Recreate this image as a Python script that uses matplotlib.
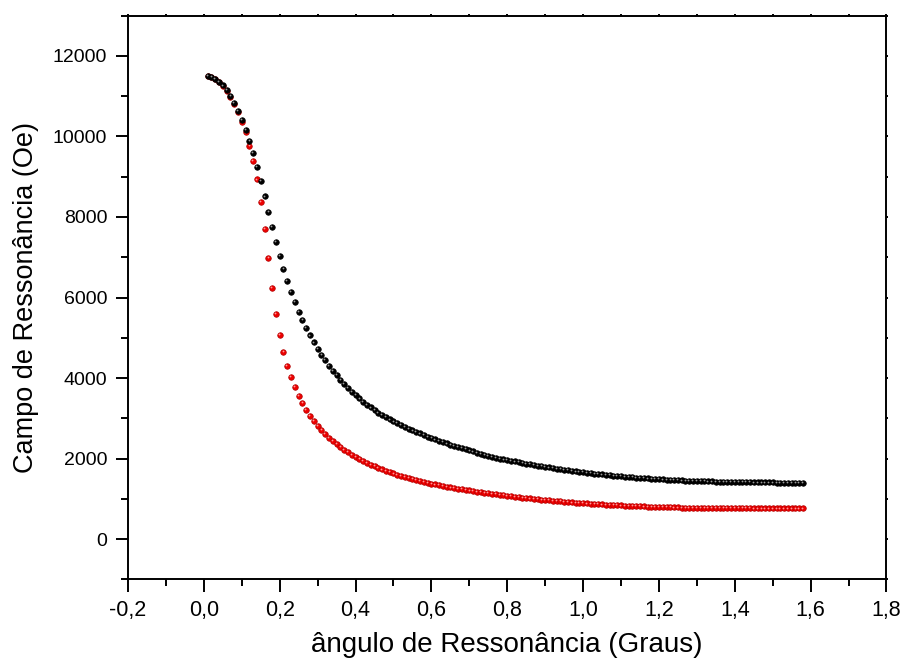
import numpy as np
import matplotlib
matplotlib.use("Agg")
import matplotlib.pyplot as plt
from matplotlib.ticker import MultipleLocator, FuncFormatter
from matplotlib.transforms import ScaledTranslation

# Resonance field (Oe) sampled every 0.01 of the angle, starting at 0.01
angle_start = 0.01
angle_step = 0.01

field_exact = [
    11514, 11484, 11434, 11362, 11268, 11150, 11006, 10834, 10634, 10406,
    10171, 9899, 9589, 9251, 8889, 8511, 8126, 7746, 7380, 7030,
    6707, 6410, 6135, 5881, 5649, 5436, 5239, 5057, 4887, 4729,
    4581, 4441, 4309, 4185, 4068, 3958, 3854, 3756, 3663, 3575,
    3492, 3414, 3340, 3270, 3204, 3142, 3083, 3027, 2974, 2924,
    2876, 2830, 2786, 2743, 2701, 2661, 2622, 2584, 2547, 2511,
    2476, 2442, 2409, 2377, 2346, 2316, 2287, 2258, 2230, 2202,
    2175, 2148, 2122, 2096, 2071, 2046, 2022, 1998, 1980, 1963,
    1945, 1928, 1910, 1892, 1875, 1857, 1840, 1822, 1808, 1794,
    1780, 1766, 1752, 1738, 1724, 1710, 1696, 1682, 1671, 1661,
    1650, 1639, 1628, 1618, 1607, 1596, 1586, 1575, 1567, 1560,
    1552, 1544, 1537, 1529, 1521, 1513, 1506, 1498, 1493, 1488,
    1483, 1478, 1473, 1467, 1462, 1457, 1452, 1447, 1444, 1441,
    1438, 1435, 1433, 1430, 1427, 1424, 1421, 1418, 1417, 1416,
    1414, 1413, 1412, 1410, 1409, 1408, 1406, 1405, 1405, 1405,
    1404, 1404, 1404, 1404, 1404, 1403, 1403, 1403,
]

field_approx = [
    11510, 11478, 11425, 11350, 11252, 11130, 10982, 10805, 10600, 10367,
    10100, 9765, 9385, 8935, 8365, 7710, 6975, 6230, 5590, 5070,
    4655, 4308, 4020, 3772, 3563, 3378, 3210, 3060, 2928, 2810,
    2703, 2606, 2516, 2434, 2358, 2288, 2221, 2157, 2097, 2040,
    1987, 1938, 1892, 1849, 1808, 1769, 1732, 1697, 1664, 1633,
    1603, 1574, 1546, 1519, 1493, 1468, 1444, 1421, 1399, 1378,
    1358, 1338, 1319, 1301, 1284, 1268, 1252, 1237, 1222, 1207,
    1193, 1179, 1165, 1151, 1138, 1125, 1112, 1099, 1088, 1077,
    1066, 1055, 1044, 1032, 1021, 1010, 999, 988, 980, 971,
    963, 954, 946, 938, 929, 921, 912, 904, 898, 892,
    886, 880, 874, 868, 862, 856, 850, 844, 840, 836,
    832, 828, 824, 819, 815, 811, 807, 803, 801, 798,
    796, 793, 791, 788, 786, 783, 781, 778, 777, 776,
    774, 773, 772, 771, 769, 768, 767, 766, 766, 765,
    765, 764, 764, 764, 763, 763, 762, 762, 762, 762,
    761, 761, 761, 761, 761, 761, 761, 761,
]

angles = np.round(angle_start + angle_step * np.arange(len(field_exact)), 2)

x_limits = (-0.2, 1.8)
y_limits = (-1000, 13000)

fig = plt.figure(figsize=(9.02, 6.62), dpi=100)
ax = fig.add_axes([0.1419, 0.1249, 0.8409, 0.8514])

# shaded "ball" symbols: dark body plus a small light spot up and to the left
shine = ax.transData + ScaledTranslation(-0.8 / 100, 0.8 / 100, fig.dpi_scale_trans)
series = [
    (field_approx, "#ee0000", "#b00000", "#ff9a9a"),
    (field_exact, "#000000", "#000000", "#9a9a9a"),
]
for values, face, edge, light in series:
    ax.plot(angles, values, linestyle="none", marker="o", markersize=4.0,
            markerfacecolor=face, markeredgecolor=edge, markeredgewidth=0.5)
    ax.plot(angles, values, linestyle="none", marker="o", markersize=1.3,
            markerfacecolor=light, markeredgewidth=0, transform=shine)

ax.set_xlim(*x_limits)
ax.set_ylim(*y_limits)

ax.xaxis.set_major_locator(MultipleLocator(0.2))
ax.xaxis.set_minor_locator(MultipleLocator(0.1))
ax.yaxis.set_major_locator(MultipleLocator(2000))
ax.yaxis.set_minor_locator(MultipleLocator(1000))

ax.xaxis.set_major_formatter(FuncFormatter(lambda v, p: f"{v:.1f}".replace(".", ",").replace("-0,0", "0,0")))
ax.yaxis.set_major_formatter(FuncFormatter(lambda v, p: f"{int(round(v))}"))

for side in ax.spines.values():
    side.set_linewidth(1.4)

ax.tick_params(axis="both", which="major", direction="out", length=9, width=1.4)
ax.tick_params(axis="both", which="minor", direction="out", length=5, width=1.4)
ax.tick_params(top=True, right=True, which="both")
ax.tick_params(axis="x", which="major", labelsize=15.5, pad=6)
ax.tick_params(axis="y", which="major", labelsize=14, pad=6)

# very short marks on the top and right frame
for t in ax.xaxis.get_major_ticks() + ax.xaxis.get_minor_ticks():
    t.tick2line.set_markersize(1.2)
for t in ax.yaxis.get_major_ticks() + ax.yaxis.get_minor_ticks():
    t.tick2line.set_markersize(1.2)

narrow = ["Liberation Sans Narrow", "Liberation Sans", "DejaVu Sans"]
wide = ["Liberation Sans", "DejaVu Sans"]
for lab in ax.get_xticklabels():
    lab.set_family(narrow)
for lab in ax.get_yticklabels():
    lab.set_family(wide)

ax.set_xlabel("ângulo de Ressonância (Graus)", family=wide, fontsize=20, labelpad=8)
ax.set_ylabel("Campo de Ressonância (Oe)", family=wide, fontsize=19.5, labelpad=10)

fig.savefig("out.png", dpi=100)
